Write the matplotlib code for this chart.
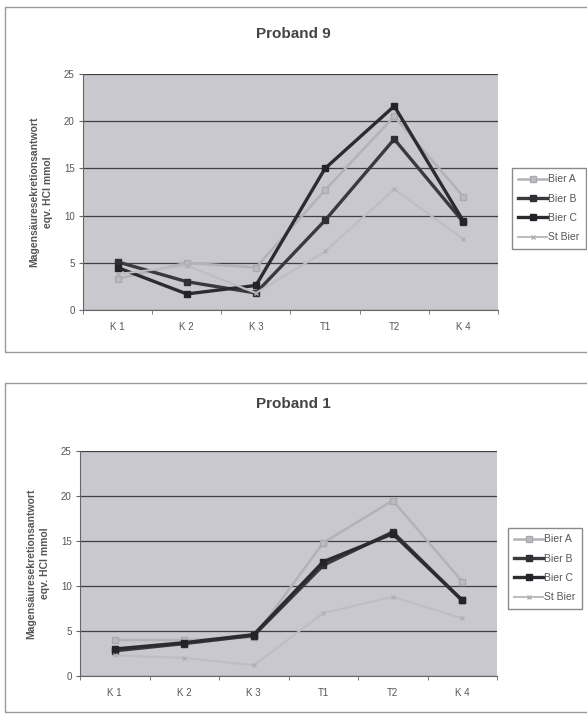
import matplotlib
matplotlib.use("Agg")
import matplotlib.pyplot as plt
from matplotlib.patches import Rectangle

plt.rcParams['font.family'] = ['Liberation Sans', 'DejaVu Sans']

categories = ["K 1", "K 2", "K 3", "T1", "T2", "K 4"]
series_names = ["Bier A", "Bier B", "Bier C", "St Bier"]

# Proband 9
p9_bier_a = [3.3, 5.0, 4.5, 12.7, 20.5, 12.0]
p9_bier_b = [5.1, 3.0, 1.8, 9.5, 18.1, 9.3]
p9_bier_c = [4.5, 1.7, 2.6, 15.0, 21.6, 9.4]
p9_st_bier = [3.8, 4.7, 1.8, 6.2, 12.8, 7.5]

# Proband 1
p1_bier_a = [4.0, 4.0, 4.3, 14.8, 19.5, 10.5]
p1_bier_b = [2.8, 3.6, 4.5, 12.3, 16.0, 8.4]
p1_bier_c = [3.0, 3.7, 4.6, 12.7, 15.8, 8.4]
p1_st_bier = [2.3, 2.0, 1.2, 7.0, 8.8, 6.4]

y_ticks = [0, 5, 10, 15, 20, 25]
y_label = "Magensäuresekretionsantwort\neqv. HCl mmol"

styles = {
    "Bier A": dict(color="#b2b2b7", lw=1.8, marker="s", ms=4, mfc="#bcbcc0", mec="#aaaaae"),
    "Bier B": dict(color="#3a3a3e", lw=2.4, marker="s", ms=4.5, mfc="#303034", mec="#303034"),
    "Bier C": dict(color="#2c2c30", lw=2.4, marker="s", ms=4.5, mfc="#242428", mec="#242428"),
    "St Bier": dict(color="#bdbdc2", lw=1.5, marker="x", ms=3.5, mfc="#b4b4b8", mec="#b0b0b4"),
}

fig = plt.figure(figsize=(5.87, 7.15), dpi=100)
fig.patch.set_facecolor("white")

W, H = 587.0, 715.0


def frac_box(x0, y0, x1, y1):
    return [x0 / W, 1 - y1 / H, (x1 - x0) / W, (y1 - y0) / H]


# chart frames
for (x0, y0, x1, y1) in [(5, 7, 592, 352), (5, 383, 592, 712)]:
    fig.patches.append(Rectangle((x0 / W, 1 - y1 / H), (x1 - x0) / W, (y1 - y0) / H,
                                 transform=fig.transFigure, fill=False,
                                 edgecolor="#9a9a9a", lw=1.0))


def draw_chart(ax_box, title, title_y, data, leg_box):
    ax = fig.add_axes(frac_box(*ax_box))
    ax.set_facecolor("#c8c8ce")
    x = list(range(len(categories)))
    handles = []
    for name, vals in zip(series_names, data):
        h, = ax.plot(x, vals, label=name, **styles[name])
        handles.append(h)
    ax.set_xlim(-0.5, len(categories) - 0.5)
    ax.set_ylim(0, 25)
    ax.set_yticks(y_ticks)
    ax.set_xticks(x)
    ax.set_xticklabels(categories)
    ax.set_xticks([i + 0.5 for i in range(-1, len(categories))], minor=True)
    ax.tick_params(axis="x", which="major", length=0, pad=9, labelsize=7, labelcolor="#555555")
    ax.tick_params(axis="x", which="minor", length=3, color="#666666", direction="out")
    ax.tick_params(axis="y", length=3, color="#666666", labelsize=7, labelcolor="#555555", pad=3)
    ax.grid(axis="y", color="#3f3f42", lw=0.9)
    ax.set_axisbelow(True)
    for s in ["top", "right"]:
        ax.spines[s].set_visible(False)
    ax.spines["left"].set_color("#666666")
    ax.spines["bottom"].set_color("#666666")
    ax.spines["left"].set_linewidth(0.8)
    ax.spines["bottom"].set_linewidth(0.8)
    ax.set_ylabel(y_label, fontsize=7.5, fontweight="bold", color="#555555",
                  linespacing=1.4, labelpad=8)
    fig.text(0.5, 1 - title_y / H, title, ha="center", va="center",
             fontsize=11, fontweight="bold", color="#444444")
    lx0, ly0, lx1, ly1 = leg_box
    fig.legend(handles=handles, loc="upper left",
               bbox_to_anchor=(lx0 / W, 1 - ly0 / H),
               frameon=True, fancybox=False, fontsize=7.5, labelcolor="#555555",
               handlelength=2.8, handletextpad=0.1, borderpad=0.6,
               labelspacing=0.9, borderaxespad=0.0,
               edgecolor="#8a8a8a", framealpha=1.0)
    return ax


draw_chart((83, 74, 498, 310), "Proband 9", 34,
           [p9_bier_a, p9_bier_b, p9_bier_c, p9_st_bier], (512, 168, 590, 252))
draw_chart((80, 451, 497, 676), "Proband 1", 404,
           [p1_bier_a, p1_bier_b, p1_bier_c, p1_st_bier], (508, 528, 590, 600))

fig.savefig("out.png", dpi=100, facecolor="white")
